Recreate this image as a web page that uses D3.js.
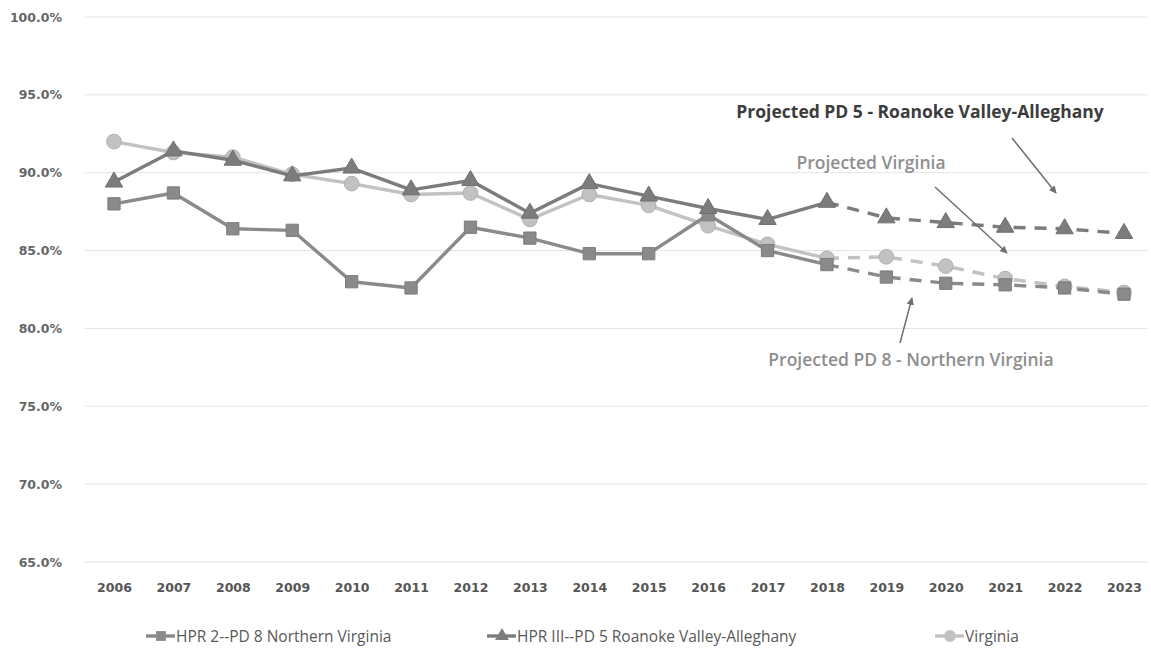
<!DOCTYPE html>
<html>
<head>
<meta charset="utf-8">
<script src="https://cdn.jsdelivr.net/npm/d3@7"></script>
<style>
  body { margin: 0; background: #fff; }
  text { font-family: "Open Sans", sans-serif; }
  .axis text { font-family: "DejaVu Sans", sans-serif; }
</style>
</head>
<body>
<div id="chart"></div>
<script>
// years on the x axis
const years = [2006, 2007, 2008, 2009, 2010, 2011, 2012, 2013, 2014, 2015, 2016, 2017, 2018, 2019, 2020, 2021, 2022, 2023];
const lastActual = 2018;

// series values (percent)
const pd8 = [88.0, 88.7, 86.4, 86.3, 83.0, 82.6, 86.5, 85.8, 84.8, 84.8, 87.3, 85.0, 84.1, 83.3, 82.9, 82.8, 82.6, 82.2];
const pd5 = [89.4, 91.4, 90.8, 89.8, 90.3, 88.9, 89.5, 87.4, 89.3, 88.5, 87.7, 87.0, 88.1, 87.1, 86.8, 86.5, 86.4, 86.1];
const virginia = [92.0, 91.3, 91.0, 89.9, 89.3, 88.6, 88.7, 87.0, 88.6, 87.9, 86.6, 85.4, 84.5, 84.6, 84.0, 83.2, 82.7, 82.3];

const yTicks = [65, 70, 75, 80, 85, 90, 95, 100];

const legendLabels = ["HPR 2--PD 8 Northern Virginia", "HPR III--PD 5 Roanoke Valley-Alleghany", "Virginia"];

const width = 1151, height = 652;
const svg = d3.select("#chart").append("svg")
    .attr("width", width)
    .attr("height", height);

const x = d3.scalePoint()
    .domain(years)
    .range([114, 1124]);

const y = d3.scaleLinear()
    .domain([65, 100])
    .range([562, 17]);

// 网格线
svg.append("g")
    .selectAll("line")
    .data(yTicks)
    .join("line")
    .attr("x1", 85)
    .attr("x2", 1148)
    .attr("y1", d => y(d))
    .attr("y2", d => y(d))
    .attr("stroke", "#e4e4e4")
    .attr("stroke-width", 1);

// y axis labels
const yAxis = svg.append("g")
    .attr("class", "axis")
    .attr("transform", "translate(65,0)")
    .call(d3.axisLeft(y).tickValues(yTicks).tickSize(0).tickFormat(d => d3.format(".1f")(d) + "%"));
yAxis.select(".domain").remove();
yAxis.selectAll("text")
    .attr("font-size", 12.5)
    .attr("font-weight", "bold")
    .attr("fill", "#666")
    .attr("dx", 0);

// x axis labels
const xAxis = svg.append("g")
    .attr("class", "axis")
    .attr("transform", "translate(0,580)")
    .call(d3.axisBottom(x).tickSize(0));
xAxis.select(".domain").remove();
xAxis.selectAll("text")
    .attr("font-size", 12.5)
    .attr("font-weight", "bold")
    .attr("fill", "#555");

const series = [
    { name: legendLabels[0], values: pd8, color: "#8a8a8a", marker: "square" },
    { name: legendLabels[1], values: pd5, color: "#7c7c7c", marker: "triangle" },
    { name: legendLabels[2], values: virginia, color: "#c2c2c2", marker: "circle" }
];

const line = d3.line()
    .x(d => x(d.year))
    .y(d => y(d.value));

const symbolFor = {
    square: d3.symbol().type(d3.symbolSquare).size(150),
    triangle: d3.symbol().type(d3.symbolTriangle).size(130),
    circle: d3.symbol().type(d3.symbolCircle).size(170)
};

// draw order: Virginia under, then PD8 and PD5
const drawOrder = [2, 0, 1];
drawOrder.forEach(i => {
    const s = series[i];
    const pts = years.map((yr, j) => ({ year: yr, value: s.values[j] }));
    const actual = pts.filter(p => p.year <= lastActual);
    const projected = pts.filter(p => p.year >= lastActual);

    svg.append("path")
        .datum(actual)
        .attr("d", line)
        .attr("fill", "none")
        .attr("stroke", s.color)
        .attr("stroke-width", 3.4)
        .attr("stroke-linejoin", "round");

    svg.append("path")
        .datum(projected)
        .attr("d", line)
        .attr("fill", "none")
        .attr("stroke", s.color)
        .attr("stroke-width", 3.4)
        .attr("stroke-dasharray", "12,9");

    svg.append("g")
        .selectAll("path")
        .data(pts)
        .join("path")
        .attr("d", symbolFor[s.marker])
        .attr("transform", d => `translate(${x(d.year)},${y(d.value)})`)
        .attr("fill", s.color)
        .attr("stroke", d3.color(s.color).darker(0.3))
        .attr("stroke-width", 1);
});

// annotations
const notes = [
    { text: "Projected PD 5 - Roanoke Valley-Alleghany", x: 920, y: 118, color: "#3c3c3c", weight: "bold" },
    { text: "Projected Virginia", x: 871, y: 169, color: "#8e8e8e", weight: "600" },
    { text: "Projected PD 8 - Northern Virginia", x: 911, y: 366, color: "#8e8e8e", weight: "600" }
];
svg.append("g")
    .selectAll("text")
    .data(notes)
    .join("text")
    .attr("x", d => d.x)
    .attr("y", d => d.y)
    .attr("text-anchor", "middle")
    .attr("font-size", 17.5)
    .attr("font-weight", d => d.weight)
    .attr("fill", d => d.color)
    .text(d => d.text);

svg.append("defs").append("marker")
    .attr("id", "arrow")
    .attr("viewBox", "0 0 10 10")
    .attr("refX", 9)
    .attr("refY", 5)
    .attr("markerWidth", 5)
    .attr("markerHeight", 5)
    .attr("orient", "auto")
    .append("path")
    .attr("d", "M0,0 L10,5 L0,10 z")
    .attr("fill", "#6f6f6f");

const arrows = [
    { x1: 1012, y1: 138, x2: 1056, y2: 193, color: "#6f6f6f" },
    { x1: 935, y1: 187, x2: 1007, y2: 253, color: "#6f6f6f" },
    { x1: 900, y1: 343, x2: 912, y2: 298, color: "#6f6f6f" }
];
svg.append("g")
    .selectAll("line")
    .data(arrows)
    .join("line")
    .attr("x1", d => d.x1)
    .attr("y1", d => d.y1)
    .attr("x2", d => d.x2)
    .attr("y2", d => d.y2)
    .attr("stroke", d => d.color)
    .attr("stroke-width", 1.5)
    .attr("marker-end", "url(#arrow)");

// legend
const legendX = [146, 487, 935];
const legend = svg.append("g")
    .selectAll("g")
    .data(series)
    .join("g")
    .attr("transform", (d, i) => `translate(${legendX[i]},636)`);

legend.append("line")
    .attr("x1", 0)
    .attr("x2", 29)
    .attr("stroke", d => d.color)
    .attr("stroke-width", 3.4);

legend.append("path")
    .attr("d", d => symbolFor[d.marker]())
    .attr("transform", "translate(15,0) scale(0.8)")
    .attr("fill", d => d.color);

legend.append("text")
    .attr("x", 30)
    .attr("y", 5.5)
    .attr("font-size", 15.5)
    .attr("fill", "#595959")
    .text(d => d.name);
</script>
</body>
</html>
